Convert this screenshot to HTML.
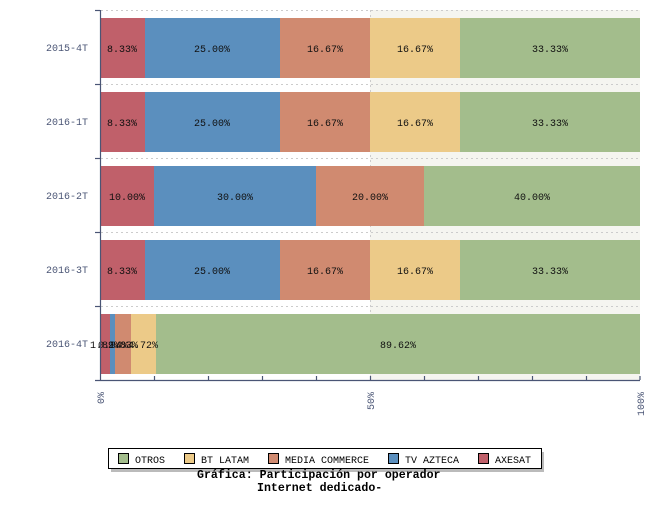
<!DOCTYPE html>
<html><head><meta charset="utf-8"><style>
body{margin:0;background:#fff}
svg text{font-family:"Liberation Mono","DejaVu Sans Mono",monospace;font-size:10px}
</style></head><body>
<svg width="650" height="500" xmlns="http://www.w3.org/2000/svg">
<rect x="370" y="10" width="270" height="370" fill="#f5f5f0"/>
<g stroke="#ccc" stroke-dasharray="2,3" stroke-width="1">
<line x1="101" y1="10.5" x2="640" y2="10.5"/>
<line x1="101" y1="84.5" x2="640" y2="84.5"/>
<line x1="101" y1="158.5" x2="640" y2="158.5"/>
<line x1="101" y1="232.5" x2="640" y2="232.5"/>
<line x1="101" y1="306.5" x2="640" y2="306.5"/>
<line x1="370.5" y1="10" x2="370.5" y2="380"/>
</g>
<g>
<rect x="100" y="18" width="45" height="60" fill="#c0606a"/>
<rect x="145" y="18" width="135" height="60" fill="#5b8fbe"/>
<rect x="280" y="18" width="90" height="60" fill="#d08a70"/>
<rect x="370" y="18" width="90" height="60" fill="#ecca88"/>
<rect x="460" y="18" width="180" height="60" fill="#a3bd8c"/>

<rect x="100" y="92" width="45" height="60" fill="#c0606a"/>
<rect x="145" y="92" width="135" height="60" fill="#5b8fbe"/>
<rect x="280" y="92" width="90" height="60" fill="#d08a70"/>
<rect x="370" y="92" width="90" height="60" fill="#ecca88"/>
<rect x="460" y="92" width="180" height="60" fill="#a3bd8c"/>

<rect x="100" y="166" width="54" height="60" fill="#c0606a"/>
<rect x="154" y="166" width="162" height="60" fill="#5b8fbe"/>
<rect x="316" y="166" width="108" height="60" fill="#d08a70"/>
<rect x="424" y="166" width="216" height="60" fill="#a3bd8c"/>

<rect x="100" y="240" width="45" height="60" fill="#c0606a"/>
<rect x="145" y="240" width="135" height="60" fill="#5b8fbe"/>
<rect x="280" y="240" width="90" height="60" fill="#d08a70"/>
<rect x="370" y="240" width="90" height="60" fill="#ecca88"/>
<rect x="460" y="240" width="180" height="60" fill="#a3bd8c"/>

<rect x="100" y="314" width="10" height="60" fill="#c0606a"/>
<rect x="110" y="314" width="5" height="60" fill="#5b8fbe"/>
<rect x="115" y="314" width="16" height="60" fill="#d08a70"/>
<rect x="131" y="314" width="25" height="60" fill="#ecca88"/>
<rect x="156" y="314" width="484" height="60" fill="#a3bd8c"/>
</g>
<g fill="#111" text-anchor="middle">
<text x="122" y="52">8.33%</text><text x="212" y="52">25.00%</text><text x="325" y="52">16.67%</text><text x="415" y="52">16.67%</text><text x="550" y="52">33.33%</text>
<text x="122" y="126">8.33%</text><text x="212" y="126">25.00%</text><text x="325" y="126">16.67%</text><text x="415" y="126">16.67%</text><text x="550" y="126">33.33%</text>
<text x="127" y="200">10.00%</text><text x="235" y="200">30.00%</text><text x="370" y="200">20.00%</text><text x="532" y="200">40.00%</text>
<text x="122" y="274">8.33%</text><text x="212" y="274">25.00%</text><text x="325" y="274">16.67%</text><text x="415" y="274">16.67%</text><text x="550" y="274">33.33%</text>
<text x="105" y="348">1.89%</text><text x="113" y="348">0.94%</text><text x="123" y="348">2.83%</text><text x="143" y="348">4.72%</text><text x="398" y="348">89.62%</text>
</g>
<g fill="#4a5575" text-anchor="end">
<text x="88" y="51">2015-4T</text><text x="88" y="125">2016-1T</text><text x="88" y="199">2016-2T</text><text x="88" y="273">2016-3T</text><text x="88" y="347">2016-4T</text>
</g>
<g stroke="#4a5575" stroke-width="1.2" fill="none">
<line x1="100.5" y1="10" x2="100.5" y2="380"/>
<line x1="95" y1="380.5" x2="640" y2="380.5"/>
<line x1="95" y1="10.5" x2="100" y2="10.5"/>
<line x1="95" y1="84.5" x2="100" y2="84.5"/>
<line x1="95" y1="158.5" x2="100" y2="158.5"/>
<line x1="95" y1="232.5" x2="100" y2="232.5"/>
<line x1="95" y1="306.5" x2="100" y2="306.5"/>
<line x1="154.5" y1="376" x2="154.5" y2="380"/>
<line x1="208.5" y1="376" x2="208.5" y2="380"/>
<line x1="262.5" y1="376" x2="262.5" y2="380"/>
<line x1="316.5" y1="376" x2="316.5" y2="380"/>
<line x1="370.5" y1="376" x2="370.5" y2="380"/>
<line x1="424.5" y1="376" x2="424.5" y2="380"/>
<line x1="478.5" y1="376" x2="478.5" y2="380"/>
<line x1="532.5" y1="376" x2="532.5" y2="380"/>
<line x1="586.5" y1="376" x2="586.5" y2="380"/>
<line x1="640" y1="376" x2="640" y2="380"/>
</g>
<g fill="#4a5575">
<text transform="translate(104,392) rotate(-90)" text-anchor="end">0%</text>
<text transform="translate(374,392) rotate(-90)" text-anchor="end">50%</text>
<text transform="translate(644,392) rotate(-90)" text-anchor="end">100%</text>
</g>
<rect x="111" y="452" width="433" height="20" fill="#bbb"/>
<rect x="108.5" y="448.5" width="433" height="20" fill="#fff" stroke="#000"/>
<g stroke="#000">
<rect x="118.5" y="453.5" width="10" height="10" fill="#a3bd8c"/>
<rect x="184.5" y="453.5" width="10" height="10" fill="#ecca88"/>
<rect x="268.5" y="453.5" width="10" height="10" fill="#d08a70"/>
<rect x="388.5" y="453.5" width="10" height="10" fill="#5b8fbe"/>
<rect x="478.5" y="453.5" width="10" height="10" fill="#c0606a"/>
</g>
<g fill="#000">
<text x="135" y="463">OTROS</text><text x="201" y="463">BT LATAM</text><text x="285" y="463">MEDIA COMMERCE</text><text x="405" y="463">TV AZTECA</text><text x="495" y="463">AXESAT</text>
</g>
<g fill="#000">
<text x="197" y="478" style="font-weight:bold;font-size:11.6px">Gráfica: Participación por operador</text>
<text x="257" y="491" style="font-weight:bold;font-size:11.6px">Internet dedicado-</text>
</g>
</svg>
</body></html>
